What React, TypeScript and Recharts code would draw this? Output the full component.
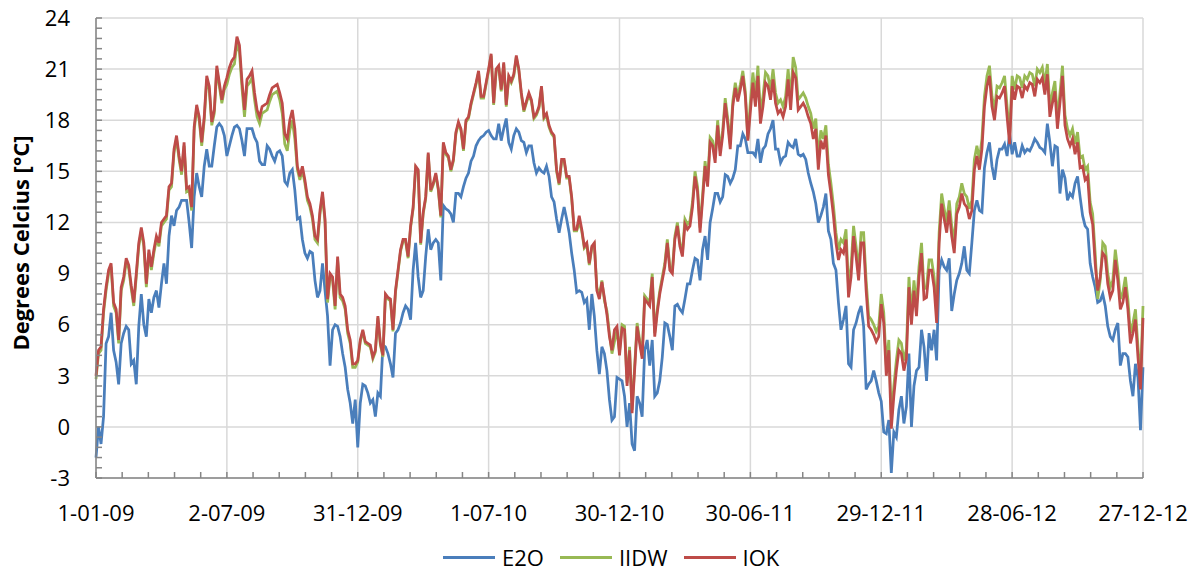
import { LineChart, Line, XAxis, YAxis, CartesianGrid } from 'recharts';

const FONT = '"Open Sans", "Noto Sans", sans-serif';

// readings every 3.5 days from 1-01-09 (one line per half year)
const DAY_STEP = 3.5;

const xTickLabels = ['1-01-09', '2-07-09', '31-12-09', '1-07-10', '30-12-10', '30-06-11', '29-12-11', '28-06-12', '27-12-12'];

const e2o = [
  -1.8, 0.0, -1.0, 0.6, 4.9, 5.3, 6.7, 4.5, 3.8, 2.5, 4.9, 5.5, 5.9, 5.7, 3.7, 3.9, 2.5, 5.9, 7.8, 6.0, 5.3, 7.5, 6.7, 7.6, 8.0, 7.0, 8.4, 9.6, 8.4, 11.2, 12.4, 11.8, 12.7, 12.9, 13.3, 13.3, 13.3, 12.0, 10.5, 13.5, 14.9, 14.1, 13.5, 15.3, 16.3, 15.3, 15.3, 16.5, 17.6, 17.8, 17.6, 17.1,
  15.9, 16.5, 17.1, 17.6, 17.7, 17.5, 16.8, 15.9, 17.5, 17.5, 17.5, 17.0, 16.7, 15.6, 15.4, 15.4, 16.5, 16.3, 15.9, 15.6, 16.1, 16.2, 15.9, 14.4, 14.2, 14.9, 15.1, 13.9, 12.2, 12.3, 11.0, 10.2, 9.9, 10.3, 10.2, 8.6, 7.6, 8.0, 9.6, 8.0, 6.5, 3.6, 5.7, 6.0, 5.9, 5.3, 4.3, 3.5, 2.2, 1.4, 0.2, 1.6,
  -1.2, 1.4, 2.5, 2.4, 2.0, 1.4, 1.6, 0.6, 2.0, 1.8, 4.8, 4.7, 4.3, 3.7, 2.9, 5.5, 5.7, 6.1, 6.7, 7.1, 6.9, 6.3, 9.2, 10.8, 8.8, 7.6, 8.0, 10.0, 11.6, 10.4, 10.8, 11.0, 10.8, 8.6, 13.0, 12.8, 12.7, 12.5, 12.0, 13.7, 13.7, 13.5, 14.1, 14.6, 14.9, 15.6, 15.9, 16.5, 16.8, 17.0, 17.1, 17.3,
  17.4, 17.1, 16.9, 16.9, 17.8, 16.8, 17.5, 18.1, 16.7, 16.3, 17.1, 17.5, 17.3, 16.8, 16.7, 16.1, 16.5, 16.5, 15.5, 14.9, 15.2, 15.0, 14.9, 15.3, 14.7, 13.5, 13.2, 12.2, 11.4, 12.2, 12.9, 12.2, 11.4, 10.2, 9.2, 7.9, 8.0, 7.9, 7.3, 7.5, 5.7, 7.8, 6.5, 4.5, 3.1, 4.7, 4.3, 3.3, 1.6, 0.4, 0.6, 2.9,
  2.8, 2.7, 1.8, 0.0, 1.4, -1.0, -1.4, 1.8, 1.4, 0.6, 4.5, 5.1, 3.6, 5.1, 1.8, 2.0, 2.7, 4.1, 6.1, 6.0, 5.3, 4.5, 7.1, 7.2, 6.9, 6.7, 7.5, 8.4, 8.4, 9.2, 9.9, 9.8, 8.6, 10.4, 11.2, 9.8, 12.0, 12.8, 13.7, 13.7, 13.2, 13.5, 14.8, 14.7, 14.3, 14.6, 15.1, 16.5, 16.5, 17.2, 16.9, 16.1,
  16.1, 16.1, 15.9, 16.9, 15.5, 16.3, 16.5, 17.2, 17.5, 18.0, 16.3, 16.3, 15.5, 15.8, 15.9, 16.7, 16.5, 16.4, 16.9, 16.0, 15.9, 16.0, 15.7, 14.9, 14.3, 13.8, 13.1, 12.0, 12.4, 12.9, 13.7, 11.5, 11.0, 9.6, 9.2, 7.3, 5.7, 6.3, 7.1, 3.7, 3.5, 5.7, 6.1, 6.7, 7.1, 5.9, 2.2, 2.5, 2.7, 3.3, 2.7, 2.0,
  1.5, -0.3, -0.4, 0.4, -2.7, -0.3, -0.6, 1.0, 1.8, 0.2, 1.2, 4.3, 0.0, 2.4, 3.3, 3.5, 5.7, 4.7, 2.7, 5.5, 4.5, 5.7, 3.9, 9.2, 9.8, 9.4, 9.2, 9.9, 6.8, 7.8, 8.6, 9.0, 9.6, 10.6, 9.2, 9.0, 10.8, 12.7, 13.3, 12.7, 12.6, 15.2, 16.1, 16.7, 15.3, 14.5, 15.7, 16.3, 16.3, 16.6, 15.9, 17.2,
  16.0, 16.7, 15.9, 15.9, 16.5, 16.1, 16.3, 16.2, 16.5, 16.9, 16.7, 16.4, 16.3, 16.1, 17.8, 16.7, 15.3, 16.5, 16.4, 13.7, 15.1, 14.6, 13.3, 13.7, 13.5, 14.3, 14.7, 13.5, 12.4, 11.8, 11.6, 9.6, 8.8, 8.2, 7.3, 7.4, 7.8, 7.1, 5.9, 5.3, 5.1, 5.7, 6.1, 3.6, 4.3, 4.3, 4.1, 2.7, 1.8, 3.7, 2.9, -0.2, 3.5,
];

const iidw = [
  2.8, 4.3, 4.5, 6.7, 8.0, 9.0, 9.4, 7.1, 6.7, 4.9, 8.0, 8.6, 9.7, 9.3, 8.1, 7.1, 8.8, 10.6, 11.5, 10.6, 8.2, 10.2, 9.2, 10.2, 11.0, 10.6, 11.8, 12.0, 12.2, 13.9, 14.1, 16.1, 16.9, 15.7, 14.8, 16.5, 13.8, 13.9, 12.7, 17.4, 18.7, 18.0, 16.5, 18.0, 20.4, 19.8, 17.7, 18.4, 21.0, 20.0, 19.0, 19.8,
  20.1, 20.7, 21.1, 21.3, 22.5, 22.0, 19.9, 18.2, 20.0, 20.2, 20.5, 19.2, 18.2, 17.8, 18.4, 18.5, 18.6, 19.1, 19.5, 19.6, 19.7, 19.2, 18.4, 16.6, 16.2, 17.4, 18.0, 16.9, 15.1, 14.5, 15.1, 14.3, 13.3, 12.9, 12.2, 11.0, 10.8, 12.5, 13.6, 12.0, 7.3, 8.8, 8.6, 6.9, 9.8, 7.6, 7.4, 6.9, 5.5, 4.9, 3.5, 3.5,
  3.8, 5.0, 5.6, 4.9, 4.8, 4.7, 4.0, 4.4, 6.4, 4.8, 4.1, 7.7, 7.5, 7.4, 5.6, 7.9, 9.1, 10.3, 10.9, 10.9, 9.9, 11.7, 12.8, 15.2, 15.0, 10.7, 12.5, 13.4, 16.0, 13.8, 14.2, 14.8, 13.9, 12.3, 16.6, 16.0, 15.8, 15.0, 15.6, 17.2, 17.8, 17.4, 16.2, 17.9, 18.1, 18.9, 19.5, 20.1, 20.8, 19.3, 19.3, 20.1,
  20.9, 21.8, 18.9, 20.9, 21.1, 19.7, 21.3, 18.8, 20.5, 20.2, 20.6, 21.7, 20.9, 19.5, 18.5, 19.0, 19.5, 19.1, 18.1, 18.3, 18.7, 19.9, 18.1, 18.3, 17.6, 17.2, 17.0, 15.0, 14.2, 15.6, 15.6, 14.6, 14.6, 13.4, 11.5, 11.5, 12.0, 11.5, 10.5, 10.7, 9.5, 10.5, 10.7, 8.2, 7.7, 8.6, 7.4, 6.8, 5.5, 4.3, 5.0, 5.7,
  4.4, 6.0, 5.9, 2.6, 4.7, 1.0, 3.5, 6.1, 5.1, 4.2, 7.7, 7.5, 7.3, 9.0, 5.5, 6.9, 8.0, 8.8, 9.6, 11.0, 9.4, 9.2, 11.2, 12.0, 10.8, 10.2, 12.2, 11.9, 12.1, 13.2, 15.0, 14.1, 11.7, 13.6, 15.6, 14.4, 17.0, 16.8, 15.8, 18.0, 16.2, 17.4, 19.3, 18.1, 16.6, 19.1, 20.2, 19.4, 20.1, 20.9, 19.7, 16.9,
  19.1, 20.8, 19.4, 21.2, 18.4, 19.4, 20.8, 20.6, 19.8, 21.0, 19.6, 19.0, 19.2, 18.8, 19.4, 21.0, 19.2, 21.7, 21.1, 19.2, 19.4, 19.6, 19.3, 18.8, 18.4, 17.5, 18.1, 15.7, 17.4, 16.9, 17.7, 15.4, 14.3, 13.0, 11.4, 10.4, 11.0, 10.8, 11.6, 8.2, 9.4, 11.8, 10.6, 9.2, 11.4, 11.4, 8.6, 6.5, 6.3, 6.0, 5.6, 5.9,
  7.8, 6.7, 3.6, 5.1, 0.5, 2.4, 3.9, 5.1, 4.9, 3.9, 4.6, 8.8, 6.6, 8.6, 7.1, 9.4, 10.8, 8.1, 8.2, 9.8, 9.8, 8.8, 6.7, 11.4, 13.7, 12.8, 12.0, 13.3, 11.8, 10.8, 13.1, 13.5, 14.3, 13.7, 13.5, 12.8, 13.3, 15.7, 16.5, 15.7, 16.9, 19.4, 20.6, 21.2, 19.4, 18.6, 20.0, 19.9, 20.2, 20.6, 18.8, 17.2,
  20.6, 19.8, 20.6, 20.5, 19.9, 20.6, 20.4, 20.8, 20.7, 20.0, 21.0, 20.8, 21.1, 20.1, 21.3, 18.8, 19.6, 20.3, 18.1, 19.6, 21.2, 18.3, 17.5, 17.1, 17.5, 16.6, 17.3, 15.8, 15.9, 15.1, 15.3, 13.2, 12.5, 10.2, 7.5, 8.6, 10.8, 10.6, 9.0, 8.2, 8.6, 10.4, 9.2, 7.5, 7.9, 8.8, 7.5, 5.5, 6.1, 6.9, 4.7, 2.8, 7.1,
];

const iok = [
  3.0, 4.5, 4.7, 6.9, 8.2, 9.2, 9.6, 7.3, 6.9, 5.1, 8.2, 8.8, 9.9, 9.5, 8.3, 7.3, 9.0, 10.8, 11.7, 10.8, 8.4, 10.4, 9.4, 10.4, 11.2, 10.8, 12.0, 12.2, 12.4, 14.1, 14.3, 16.3, 17.1, 15.9, 15.0, 16.7, 14.0, 14.1, 12.9, 17.6, 18.9, 18.2, 16.7, 18.2, 20.6, 20.0, 17.9, 18.6, 21.2, 20.2, 19.2, 20.0,
  20.5, 21.1, 21.5, 21.7, 22.9, 22.4, 20.3, 18.6, 20.4, 20.6, 20.9, 19.6, 18.6, 18.2, 18.8, 18.9, 19.0, 19.5, 19.9, 20.0, 20.1, 19.6, 19.0, 17.2, 16.9, 18.0, 18.6, 17.5, 15.3, 14.7, 15.3, 14.5, 13.5, 13.1, 12.4, 11.2, 11.0, 12.7, 13.8, 12.2, 7.5, 9.0, 8.8, 7.1, 10.0, 7.8, 7.6, 7.1, 5.7, 5.1, 3.7, 3.7,
  3.9, 5.1, 5.7, 5.0, 4.9, 4.8, 4.1, 4.5, 6.5, 4.9, 4.2, 7.8, 7.6, 7.5, 5.7, 8.0, 9.2, 10.4, 11.0, 11.0, 10.0, 11.8, 12.9, 15.3, 15.1, 10.8, 12.6, 13.5, 16.1, 13.9, 14.3, 14.9, 14.0, 12.4, 16.7, 16.1, 15.9, 15.1, 15.7, 17.3, 17.9, 17.5, 16.3, 18.0, 18.2, 19.0, 19.6, 20.2, 20.9, 19.4, 19.4, 20.2,
  21.0, 21.9, 19.0, 21.0, 21.2, 19.8, 21.4, 18.9, 20.6, 20.3, 20.7, 21.8, 21.0, 19.6, 18.6, 19.1, 19.6, 19.2, 18.2, 18.4, 18.8, 20.0, 18.2, 18.4, 17.7, 17.3, 17.1, 15.1, 14.3, 15.7, 15.7, 14.7, 14.7, 13.5, 11.6, 11.6, 12.4, 11.6, 10.6, 10.8, 9.6, 10.6, 10.8, 8.0, 7.5, 8.5, 7.6, 6.6, 5.3, 4.5, 5.7, 5.9,
  4.2, 5.8, 5.7, 2.4, 4.5, 0.8, 3.3, 5.9, 4.9, 4.0, 7.5, 7.3, 7.1, 8.8, 5.3, 6.7, 7.8, 8.6, 9.4, 10.8, 9.2, 9.0, 11.0, 11.8, 10.6, 10.0, 11.9, 11.6, 11.8, 12.9, 14.7, 13.8, 11.4, 13.3, 15.3, 14.1, 16.7, 16.5, 15.5, 17.7, 15.9, 17.1, 19.0, 17.8, 16.3, 18.8, 19.9, 19.1, 19.8, 20.6, 19.4, 16.8,
  18.5, 20.2, 18.8, 20.6, 17.8, 18.8, 20.2, 20.0, 19.2, 20.4, 19.0, 18.4, 18.6, 18.2, 18.8, 20.4, 18.6, 20.8, 20.5, 18.6, 18.8, 19.0, 18.7, 18.2, 17.8, 16.9, 17.5, 15.1, 16.8, 16.3, 17.1, 14.8, 13.7, 12.4, 10.8, 9.8, 10.4, 10.2, 11.0, 7.6, 8.8, 11.2, 10.0, 8.6, 10.8, 10.8, 8.0, 5.9, 5.7, 5.4, 5.0, 5.3,
  7.2, 6.1, 3.0, 4.5, -0.1, 1.8, 3.3, 4.5, 4.3, 3.3, 4.0, 8.2, 6.0, 8.0, 6.5, 8.8, 10.2, 7.5, 7.6, 9.2, 9.2, 8.2, 6.1, 10.8, 13.1, 12.2, 11.4, 12.7, 11.2, 10.2, 12.5, 12.9, 13.7, 13.1, 12.9, 12.2, 12.7, 15.1, 15.9, 15.1, 16.3, 18.8, 20.0, 20.6, 18.8, 18.0, 19.4, 19.3, 19.6, 20.0, 18.2, 16.6,
  20.0, 19.2, 20.0, 19.9, 19.3, 20.0, 19.8, 20.2, 20.1, 19.4, 20.4, 20.2, 20.5, 19.5, 20.7, 18.2, 19.0, 19.7, 17.5, 19.0, 20.6, 17.7, 16.9, 16.5, 16.9, 16.0, 16.7, 15.2, 15.3, 14.5, 14.7, 12.6, 11.9, 9.6, 8.0, 8.8, 10.2, 10.0, 8.4, 7.6, 8.0, 9.8, 8.6, 6.9, 7.3, 8.2, 6.9, 4.9, 5.5, 6.3, 4.1, 2.2, 6.4,
];

const data = iok.map((v, i) => ({ day: i * DAY_STEP, e2o: e2o[i], iidw: iidw[i], iok: v }));

// Excel-style axes: majors every 182 days / 3 degrees, 4 minor ticks between
const MINOR_X = 36.4;
const xTicks = Array.from({ length: 41 }, (_, i) => i * MINOR_X);
const majorX = Array.from({ length: 9 }, (_, i) => i * 182);
const yTicks = Array.from({ length: 46 }, (_, i) => Math.round((-3 + i * 0.6) * 10) / 10);
const majorY = Array.from({ length: 10 }, (_, i) => -3 + i * 3);

const formatX = (v: number) => {
  const k = Math.round(v / MINOR_X);
  return k % 5 === 0 ? xTickLabels[k / 5] : '';
};
const formatY = (v: number) => (Math.round(v * 10) % 30 === 0 ? String(Math.round(v)) : '');

const axisStroke = { stroke: '#868686', strokeWidth: 1.5 };
const tickStyle = { fontSize: 22, fill: '#000', fontFamily: FONT };

const legendItems = [
  { name: 'E2O', color: '#4A7EBB' },
  { name: 'IIDW', color: '#98B954' },
  { name: 'IOK', color: '#BE4B48' },
];

export default function App() {
  return (
    <div style={{ position: 'absolute', left: 0, top: 0, width: 1203, height: 572, background: '#fff' }}>
      <LineChart width={1203} height={572} data={data} margin={{ top: 18, right: 60, bottom: 0, left: 0 }}>
        <CartesianGrid stroke="#d9d9d9" strokeWidth={1.5} horizontalValues={majorY} verticalValues={majorX} />
        <XAxis
          dataKey="day"
          type="number"
          domain={[0, 1456]}
          ticks={xTicks}
          interval={0}
          tickFormatter={formatX}
          height={94}
          tickSize={-6}
          tickMargin={33}
          axisLine={axisStroke}
          tickLine={axisStroke}
          tick={tickStyle}
        />
        <YAxis
          type="number"
          domain={[-3, 24]}
          ticks={yTicks}
          interval={0}
          tickFormatter={formatY}
          width={96}
          tickSize={-6}
          tickMargin={32}
          axisLine={axisStroke}
          tickLine={axisStroke}
          tick={tickStyle}
          label={{
            content: () => (
              <text
                x={29}
                y={243}
                transform="rotate(-90 29 243)"
                textAnchor="middle"
                fontFamily={FONT}
                fontWeight="bold"
                fontSize={22}
                fill="#000"
              >
                Degrees Celcius [°C]
              </text>
            ),
          }}
        />
        <Line dataKey="e2o" name="E2O" stroke="#4A7EBB" strokeWidth={2.75} dot={false} isAnimationActive={false} />
        <Line dataKey="iidw" name="IIDW" stroke="#98B954" strokeWidth={2.75} dot={false} isAnimationActive={false} />
        <Line dataKey="iok" name="IOK" stroke="#BE4B48" strokeWidth={2.75} dot={false} isAnimationActive={false} />
      </LineChart>
      <div style={{ position: 'absolute', left: 443, top: 542, display: 'flex', alignItems: 'center', fontFamily: FONT, fontSize: 22 }}>
        {legendItems.map((it) => (
          <div key={it.name} style={{ display: 'flex', alignItems: 'center', marginRight: 16 }}>
            <div style={{ width: 52, height: 3, background: it.color, marginRight: 7 }} />
            <span>{it.name}</span>
          </div>
        ))}
      </div>
    </div>
  );
}
